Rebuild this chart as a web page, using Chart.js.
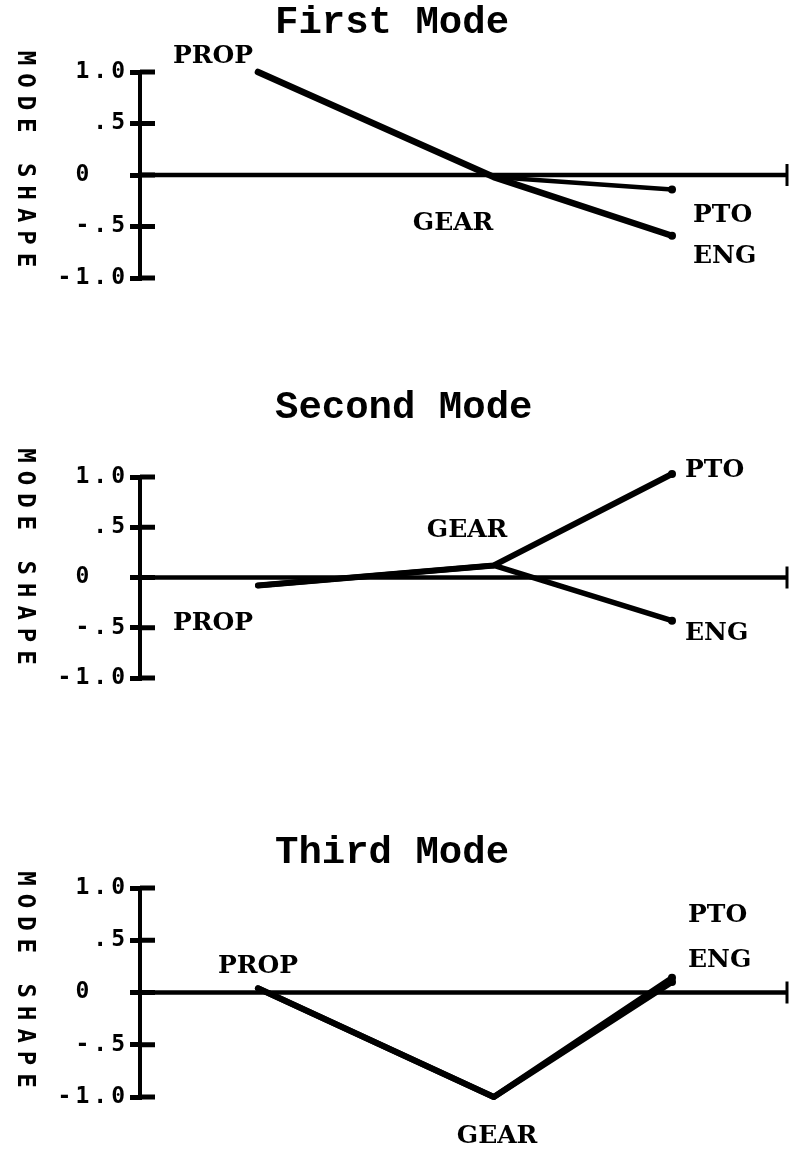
<!DOCTYPE html>
<html>
<head>
<meta charset="utf-8">
<script src="https://cdn.jsdelivr.net/npm/chart.js@4.4.1/dist/chart.umd.min.js"></script>
<style>
  html, body { margin: 0; padding: 0; background: #fff; }
  #wrap { position: relative; width: 792px; height: 1149px; overflow: hidden; background: #fff; }
  #wrap canvas { position: absolute; left: 0; }
</style>
</head>
<body>
<div id="wrap">
  <canvas id="mode1"></canvas>
  <canvas id="mode2"></canvas>
  <canvas id="mode3"></canvas>
</div>
<script>
// Axial stations along the shaft line (PROP, GEAR, output end where PTO and ENG sit)
const stationNames = ['PROP', 'GEAR', 'PTO', 'ENG'];
const shaftX = [18.2, 54.6, 82.1];

const modeTitles = ['First Mode', 'Second Mode', 'Third Mode'];
const yTickValues = [1, 0.5, 0, -0.5, -1];
const yTickLabels = ['1.0', '.5', '0  ', '-.5', '-1.0'];
const yAxisTitle = 'MODE SHAPE';

// Normalised mode shapes: PROP -> GEAR -> PTO branch and PROP -> GEAR -> ENG branch
const firstModePTO  = [1.00, -0.02, -0.14];
const firstModeENG  = [1.00, -0.02, -0.59];
const secondModePTO = [-0.08, 0.12, 1.03];
const secondModeENG = [-0.08, 0.12, -0.43];
const thirdModePTO  = [0.04, -1.00, 0.14];
const thirdModeENG  = [0.04, -1.00, 0.10];

const modeSeries = [
  [firstModePTO, firstModeENG],
  [secondModePTO, secondModeENG],
  [thirdModePTO, thirdModeENG]
];

// Panel placement on the page and label offsets (pixels from the named point)
const panelLayout = [
  { top: 0, height: 383, areaTop: 72, areaBottom: 278, titleDy: -39, axisTitleDy: -16,
    labels: [
      { name: 'PROP', series: 0, index: 0, dx: -85, dy: -9 },
      { name: 'GEAR', series: 0, index: 1, dx: -81, dy: 53 },
      { name: 'PTO',  series: 0, index: 2, dx: 21,  dy: 33 },
      { name: 'ENG',  series: 1, index: 2, dx: 21,  dy: 27 }
    ], widths: [4.5, 6.5] },
  { top: 383, height: 383, areaTop: 94, areaBottom: 295, titleDy: -59, axisTitleDy: -21,
    labels: [
      { name: 'PROP', series: 0, index: 0, dx: -85, dy: 44 },
      { name: 'GEAR', series: 0, index: 1, dx: -67, dy: -28 },
      { name: 'PTO',  series: 0, index: 2, dx: 13,  dy: 3 },
      { name: 'ENG',  series: 1, index: 2, dx: 13,  dy: 19 }
    ], widths: [6, 5.5] },
  { top: 766, height: 383, areaTop: 122, areaBottom: 331, titleDy: -25, axisTitleDy: -13,
    labels: [
      { name: 'PROP', series: 0, index: 0, dx: -40, dy: -15 },
      { name: 'GEAR', series: 0, index: 1, dx: -37, dy: 46 },
      { name: 'PTO',  series: 0, index: 2, dx: 16,  dy: -56 },
      { name: 'ENG',  series: 1, index: 2, dx: 16,  dy: -15 }
    ], widths: [6, 6] }
];

const INK = '#000';
const AXIS_LEFT = 140;

// Draws the zero line, its end tick and the inner halves of the y ticks
const axisPlugin = {
  id: 'modeAxes',
  beforeDraw(chart) {
    chart.ctx.letterSpacing = '4px';
  },
  beforeDatasetsDraw(chart) {
    const { ctx, chartArea, scales } = chart;
    const y = scales.y;
    ctx.save();
    ctx.letterSpacing = '0px';
    ctx.strokeStyle = INK;
    ctx.lineCap = 'butt';
    // inner tick stubs
    ctx.lineWidth = 5;
    yTickValues.forEach(v => {
      const py = y.getPixelForValue(v);
      ctx.beginPath();
      ctx.moveTo(chartArea.left, py);
      ctx.lineTo(chartArea.left + 15, py);
      ctx.stroke();
    });
    // zero line
    const y0 = y.getPixelForValue(0);
    ctx.lineWidth = 4.5;
    ctx.beginPath();
    ctx.moveTo(chartArea.left, y0);
    ctx.lineTo(chartArea.right, y0);
    ctx.stroke();
    // end tick
    ctx.lineWidth = 3;
    ctx.beginPath();
    ctx.moveTo(chartArea.right - 1, y0 - 11);
    ctx.lineTo(chartArea.right - 1, y0 + 11);
    ctx.stroke();
    ctx.restore();
  },
  afterDraw(chart, args, opts) {
    const { ctx, chartArea } = chart;
    const layout = opts.layout;
    ctx.save();
    ctx.fillStyle = INK;
    // panel title
    ctx.letterSpacing = '0px';
    ctx.font = 'bold 39px "Liberation Mono", monospace';
    ctx.textAlign = 'left';
    ctx.textBaseline = 'alphabetic';
    ctx.fillText(opts.title, 275, chartArea.top + layout.titleDy);
    // station labels
    ctx.font = 'bold 25px "DejaVu Serif", serif';
    layout.labels.forEach(l => {
      const meta = chart.getDatasetMeta(l.series);
      const pt = meta.data[l.index];
      ctx.fillText(l.name, pt.x + l.dx, pt.y + l.dy);
    });
    // vertical axis title, reading downwards
    ctx.font = 'bold 24px "DejaVu Sans Mono", monospace';
    ctx.letterSpacing = '8px';
    const cy = (chartArea.top + chartArea.bottom) / 2 + layout.axisTitleDy;
    ctx.translate(24, cy);
    ctx.rotate(Math.PI / 2);
    ctx.textAlign = 'center';
    ctx.textBaseline = 'middle';
    ctx.fillText(yAxisTitle, 4, 0);
    ctx.restore();
    ctx.letterSpacing = '0px';
  }
};

function buildChart(canvasId, p) {
  const layout = panelLayout[p];
  const canvas = document.getElementById(canvasId);
  canvas.style.top = layout.top + 'px';
  canvas.width = 792;
  canvas.height = layout.height;
  canvas.style.width = '792px';
  canvas.style.height = layout.height + 'px';

  const datasets = modeSeries[p].map((vals, s) => ({
    label: stationNames[2 + s],
    data: vals.map((v, i) => ({ x: shaftX[i], y: v })),
    borderColor: INK,
    backgroundColor: INK,
    borderWidth: layout.widths[s],
    borderCapStyle: 'round',
    borderJoinStyle: 'round',
    pointRadius: ctx => (ctx.dataIndex === 2 ? 4 : 0),
    pointBorderWidth: 0,
    pointHoverRadius: 0,
    tension: 0,
    fill: false,
    clip: false
  }));

  return new Chart(canvas, {
    type: 'line',
    data: { datasets },
    plugins: [axisPlugin],
    options: {
      responsive: false,
      animation: false,
      events: [],
      layout: {
        padding: {
          top: layout.areaTop,
          bottom: layout.height - layout.areaBottom,
          left: 0,
          right: 4
        }
      },
      plugins: {
        legend: { display: false },
        title: { display: false },
        tooltip: { enabled: false },
        modeAxes: { title: modeTitles[p], layout }
      },
      scales: {
        x: {
          type: 'linear',
          min: 0,
          max: 100,
          display: false
        },
        y: {
          type: 'linear',
          min: -1,
          max: 1,
          afterBuildTicks: scale => {
            scale.ticks = yTickValues.map(v => ({ value: v }));
          },
          afterFit: scale => { scale.width = AXIS_LEFT; },
          ticks: {
            color: INK,
            padding: 1,
            font: { family: '"DejaVu Sans Mono", monospace', size: 23, weight: 'bold' },
            callback: v => yTickLabels[yTickValues.indexOf(v)]
          },
          grid: {
            drawOnChartArea: false,
            drawTicks: true,
            tickLength: 10,
            lineWidth: 5,
            color: INK
          },
          border: { display: true, color: INK, width: 4 }
        }
      }
    }
  });
}

buildChart('mode1', 0);
buildChart('mode2', 1);
buildChart('mode3', 2);
</script>
</body>
</html>
